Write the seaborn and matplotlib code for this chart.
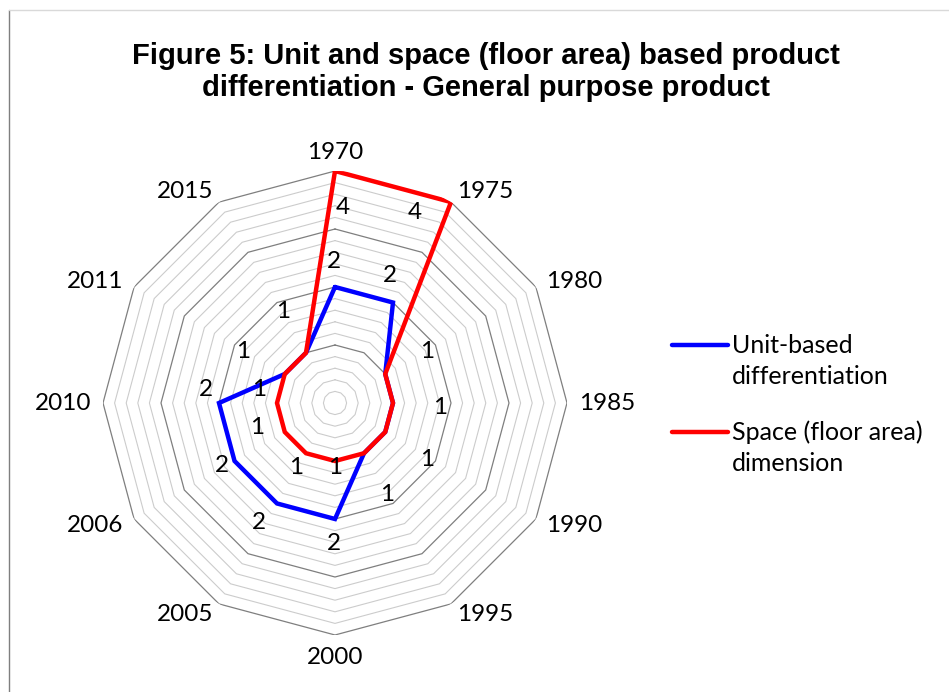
import textwrap
import numpy as np
import pandas as pd
import matplotlib
matplotlib.use("Agg")
import matplotlib.pyplot as plt
from matplotlib.lines import Line2D
import seaborn as sns

# ---------------- data ----------------
categories = ["1970", "1975", "1980", "1985", "1990", "1995",
              "2000", "2005", "2006", "2010", "2011", "2015"]
unit_based = [2, 2, 1, 1, 1, 1, 2, 2, 2, 2, 1, 1]
space_dim = [4, 4, 1, 1, 1, 1, 1, 1, 1, 1, 1, 1]
series_names = ["Unit-based differentiation", "Space (floor area) dimension"]
title = "Figure 5: Unit and space (floor area) based product\ndifferentiation - General purpose product"

# ---------------- styling ----------------
colors = ["#0000FF", "#FF0000"]
label_font = ["Lato", "DejaVu Sans"]
# data-label offsets in screen pixels (dx right, dy down) relative to each point; None = hidden
blue_label_offsets = [(-1, -25), (-3, -27), (42, -22), (47, 4), (42, 27), (23, 41),
                      (-1, 24), (-18, 19), (-13, 5), (-13, -13), (-42, -22), (-23, -41)]
red_label_offsets = [(8, 36), (-36, 10), None, None, None, None,
                     (0, 6), (-10, 14), (-28, -4), (-18, -14), None, None]

sns.set_theme(style="white")
plt.rcParams["font.family"] = label_font
plt.rcParams["text.color"] = "black"

W, H = 949, 692
fig = plt.figure(figsize=(W / 100, H / 100), dpi=100)
fig.patch.set_facecolor("white")

cx, cy, R = 335, 403, 232
ax = fig.add_axes([(cx - R) / W, 1 - (cy + R) / H, 2 * R / W, 2 * R / H], projection="polar")
ax.set_theta_zero_location("N")
ax.set_theta_direction(-1)
ax.set_facecolor("white")

n = len(categories)
theta = np.arange(n) * 2 * np.pi / n
theta_closed = np.append(theta, 2 * np.pi)

rmax = 4
# polygon gridlines
for k in range(1, 21):
    lvl = k * 0.2
    major = (k % 5 == 0)
    ax.plot(theta_closed, [lvl] * (n + 1),
            color="#7f7f7f" if major else "#cccccc",
            lw=0.9 if major else 0.8, zorder=1)

# series
rows = []
for name, vals in zip(series_names, [unit_based, space_dim]):
    closed = list(vals) + [vals[0]]
    for i, (t, v) in enumerate(zip(theta_closed, closed)):
        rows.append({"theta": t, "value": v, "series": name, "order": i})
df = pd.DataFrame(rows)

sns.lineplot(data=df, x="theta", y="value", hue="series", hue_order=series_names,
             palette=colors, sort=False, estimator=None, units="series",
             legend=False, lw=3.2, ax=ax, zorder=3)
for l in ax.lines[-2:]:
    l.set_solid_joinstyle("miter")

ax.set_ylim(0, rmax)
ax.grid(False)
ax.set_xticks([])
ax.set_yticks([])
ax.spines["polar"].set_visible(False)
ax.set_xlabel("")
ax.set_ylabel("")

FS = 17.5
# category labels
lab_r = 244 / R * rmax
for t, c in zip(theta, categories):
    s, co = np.sin(t), np.cos(t)
    if abs(s) < 0.1:
        ha = "center"
        va = "baseline" if co > 0 else "top"
    else:
        ha = "left" if s > 0 else "right"
        va = "center"
    ax.text(t, lab_r, c, ha=ha, va=va, fontsize=FS, color="black", zorder=5)

# data labels
for vals, offs in [(unit_based, blue_label_offsets), (space_dim, red_label_offsets)]:
    for t, v, o in zip(theta, vals, offs):
        if o is None:
            continue
        ax.annotate(f"{v:.0f}", xy=(t, v), xytext=(o[0], -o[1]),
                    textcoords="offset pixels", ha="center", va="center",
                    fontsize=FS, color="black", zorder=6)

# title
fig.text(0.512, 1 - 72 / H, title, ha="center", va="center", fontsize=21,
         fontweight="bold", color="black",
         family=["Liberation Sans", "DejaVu Sans"], linespacing=1.2)

# legend
for i, (name, col) in enumerate(zip(series_names, colors)):
    ly = [345, 432][i]
    fig.add_artist(Line2D([672 / W, 728 / W], [1 - ly / H] * 2, color=col, lw=3.2,
                          transform=fig.transFigure))
    fig.text(732 / W, 1 - (ly + 16) / H, textwrap.fill(name, 18), ha="left", va="center",
             fontsize=18, linespacing=1.42, color="black")

# chart border remnants
fig.add_artist(Line2D([9 / W, 9 / W], [0, 1 - 10 / H], color="#7f7f7f", lw=1.0,
                      transform=fig.transFigure))
fig.add_artist(Line2D([9 / W, 1], [1 - 10 / H] * 2, color="#d9d9d9", lw=1.0,
                      transform=fig.transFigure))

fig.savefig("out.png", dpi=100, facecolor="white")
